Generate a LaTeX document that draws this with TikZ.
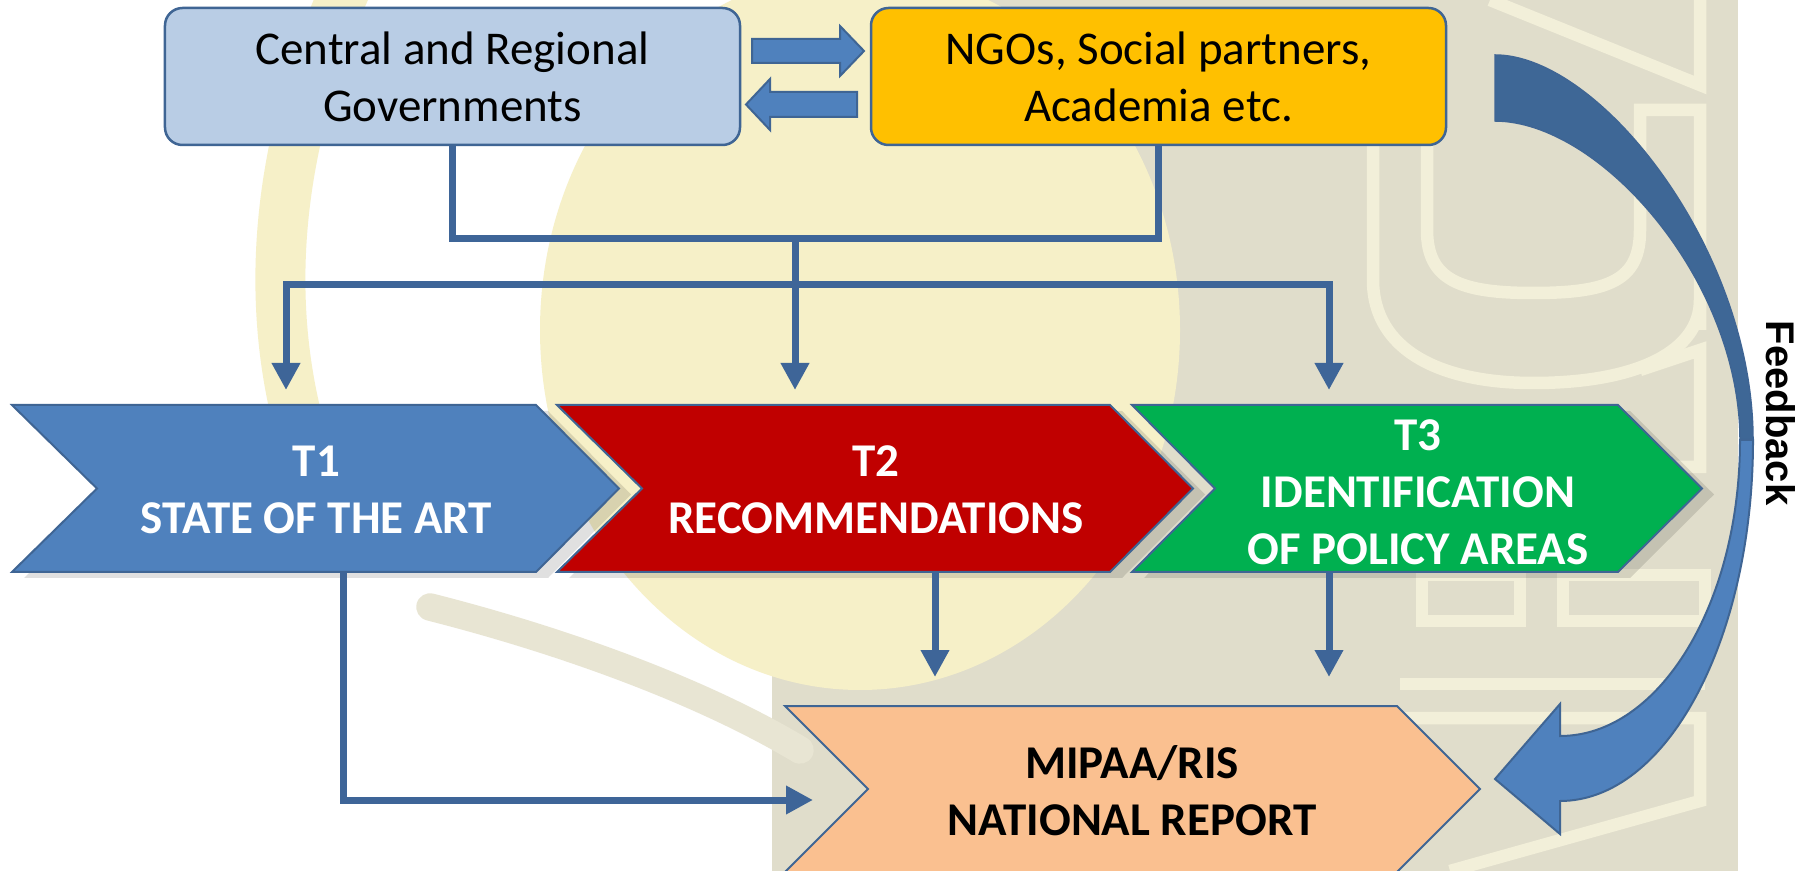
\documentclass[tikz,border=0pt]{standalone}
\usepackage{fontspec}
\setmainfont{Carlito}
\newfontfamily\fbfont{Liberation Sans}
\usetikzlibrary{arrows.meta,calc}
\definecolor{govfill}{HTML}{B9CDE5}
\definecolor{ngofill}{HTML}{FFC000}
\definecolor{edgeblue}{HTML}{3F6594}
\definecolor{connblue}{HTML}{3E6598}
\definecolor{tone}{HTML}{4F81BD}
\definecolor{ttwo}{HTML}{C00000}
\definecolor{tthree}{HTML}{00B050}
\definecolor{repfill}{HTML}{FAC090}
\definecolor{fbdark}{HTML}{3E6796}
\definecolor{beige}{HTML}{E0DDCB}
\definecolor{paleyel}{HTML}{F6F0C8}
\definecolor{cream}{HTML}{F2EFD9}
\definecolor{swooshcol}{HTML}{E8E5D3}
\begin{document}
\begin{tikzpicture}[x=0.4pt,y=-0.4pt,
  box/.style={draw=edgeblue,line width=1pt,rounded corners=7pt,minimum width=230pt,minimum height=54.8pt,inner sep=0pt,align=center,font=\fontsize{18.8}{22.8}\selectfont},
  chev/.style={draw=edgeblue,line width=0.8pt,line join=miter},
  ttext/.style={align=center,text=white,font=\bfseries\fontsize{18.8}{22.8}\selectfont,inner sep=0pt},
  conn/.style={draw=connblue,line width=2.8pt},
  tip/.style={-{Triangle[length=10.8pt,width=10.8pt]}},
  blockarrow/.style={fill=tone,draw=edgeblue,line width=0.8pt,line join=miter},
  deco/.style={draw=cream,line width=5pt},
  shadowfill/.style={fill=black,opacity=0.12},
]
\useasboundingbox (0,0) rectangle (1813,871);
\clip (0,0) rectangle (1813,871);
% ---------- background watermark ----------
\fill[white] (0,0) rectangle (1813,871);
\fill[beige] (772,0) rectangle (1738,871);
\fill[paleyel] (860,330) ellipse [x radius=320, y radius=360];
\draw[paleyel,line width=20pt] (345,-10) .. controls (275,150) and (265,300) .. (300,430);
\draw[swooshcol,line width=11pt,line cap=round] (430,607) .. controls (560,640) and (700,690) .. (800,750);
% cream line pattern
\draw[deco] (1427,110) -- (1427,230) .. controls (1427,280) and (1460,293) .. (1533,293) .. controls (1610,293) and (1640,280) .. (1640,230) -- (1640,110) -- (1700,110) -- (1700,330);
\draw[deco] (1373,110) -- (1373,280) .. controls (1373,350) and (1440,383) .. (1533,383) .. controls (1640,383) and (1700,350) .. (1700,300);
\draw[deco] (1490,0) -- (1700,85) -- (1700,0);
\draw[deco] (1640,370) -- (1700,350) -- (1700,467) -- (1640,467);
\draw[deco] (1422,575) rectangle (1520,621);
\draw[deco] (1563,575) rectangle (1705,621);
\draw[deco] (1400,684) -- (1705,684);
\draw[deco] (1400,718) -- (1700,718) -- (1700,801) -- (1450,871);
% ---------- top boxes ----------
\node[box,fill=govfill] (gov) at (452.5,76.5) {Central and Regional\\Governments};
\node[box,fill=ngofill] (ngo) at (1158.5,76.5) {NGOs, Social partners,\\Academia etc.};
% block arrows between boxes
\draw[blockarrow] (752,39) -- (840,39) -- (840,26) -- (864,51) -- (840,76) -- (840,63) -- (752,63) -- cycle;
\draw[blockarrow] (857,92) -- (770,92) -- (770,79) -- (746,104.5) -- (770,130) -- (770,117) -- (857,117) -- cycle;
% ---------- chevrons ----------
\begin{scope}[shift={(12,6)}]
\fill[shadowfill] (12,405) -- (536,405) -- (619,488.5) -- (536,572) -- (12,572) -- (97,488.5) -- cycle;
\fill[shadowfill] (557,405) -- (1110,405) -- (1193,488.5) -- (1110,572) -- (557,572) -- (642,488.5) -- cycle;
\fill[shadowfill] (1132,405) -- (1618,405) -- (1702,488.5) -- (1618,572) -- (1132,572) -- (1215,488.5) -- cycle;
\end{scope}
\draw[chev,fill=tone] (12,405) -- (536,405) -- (619,488.5) -- (536,572) -- (12,572) -- (97,488.5) -- cycle;
\draw[chev,fill=ttwo] (557,405) -- (1110,405) -- (1193,488.5) -- (1110,572) -- (557,572) -- (642,488.5) -- cycle;
\draw[chev,fill=tthree] (1132,405) -- (1618,405) -- (1702,488.5) -- (1618,572) -- (1132,572) -- (1215,488.5) -- cycle;
\draw[chev,fill=repfill] (785,706) -- (1397,706) -- (1480,789) -- (1397,872) -- (785,872) -- (868,789) -- cycle;
\node[ttext] (t1) at (316.5,490) {T1\\STATE OF THE ART};
\node[ttext] (t2) at (876,490) {T2\\RECOMMENDATIONS};
\node[ttext] (t3) at (1418,492) {T3\\IDENTIFICATION\\OF POLICY AREAS};
\node[ttext,text=black] (rep) at (1132,791) {MIPAA/RIS\\NATIONAL REPORT};
% ---------- connectors ----------
\coordinate (j1) at (795,239);
\coordinate (j2) at (795,285);
\coordinate (t1in) at (286,390);
\coordinate (t2in) at (795,390);
\coordinate (t3in) at (1329,390);
\coordinate (t1out) at (343,572);
\coordinate (t2out) at (935,572);
\coordinate (t3out) at (1329,572);
\coordinate (repin) at (813,800);
\coordinate (t2rep) at (935,677);
\coordinate (t3rep) at (1329,677);
\draw[conn] (gov.south) |- (j1) -| (ngo.south);
\draw[conn,tip] (j1) -- (t2in);
\draw[conn,tip] (j2) -| (t1in);
\draw[conn,tip] (j2) -| (t3in);
\draw[conn,tip] (t1out) |- (repin);
\draw[conn,tip] (t2out) -- (t2rep);
\draw[conn,tip] (t3out) -- (t3rep);
% ---------- feedback arrow ----------
\draw[fill=fbdark,draw=edgeblue,line width=0.6pt] (1495,55) .. controls (1600,55) and (1753,250) .. (1753,440) -- (1740,440) .. controls (1740,280) and (1600,121) .. (1495,121) -- cycle;
\draw[fill=tone,draw=edgeblue,line width=0.8pt,line join=miter] (1753,440) .. controls (1753,639) and (1667,801) .. (1560,801) -- (1560,834) -- (1495,779) -- (1560,704) -- (1560,736) .. controls (1659.4,736) and (1740,603.5) .. (1740,440) -- cycle;
\node[rotate=-90,font=\fbfont\bfseries\fontsize{16}{19}\selectfont,inner sep=0pt] (fb) at (1781,413) {Feedback};
\end{tikzpicture}
\end{document}
